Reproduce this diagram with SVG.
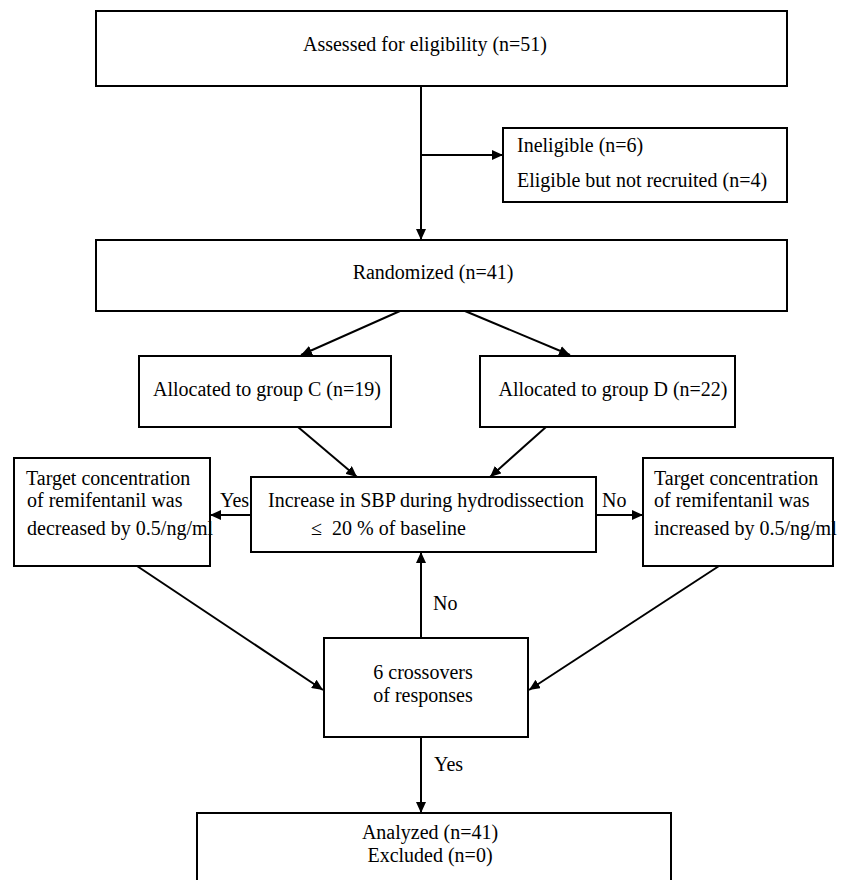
<svg xmlns="http://www.w3.org/2000/svg" width="843" height="880" viewBox="0 0 843 880">
<style>
.box{fill:#fff;stroke:#000;stroke-width:2}
.t{font-family:'Liberation Serif',Tinos,'Times New Roman','DejaVu Serif',serif;font-size:20px;fill:#000}
.c{text-anchor:middle}
.pre{white-space:pre}
.ln{stroke:#000;stroke-width:2;fill:none;marker-end:url(#ah)}
</style>
<defs>
<marker id="ah" markerUnits="userSpaceOnUse" markerWidth="12" markerHeight="10" refX="11" refY="5" orient="auto">
<path d="M0,0 L11,5 L0,10 Z" fill="#000"/>
</marker>
</defs>
<rect width="843" height="880" fill="#fff"/>
<g id="connectors">
<line class="ln" x1="421" y1="86" x2="421" y2="240"/>
<line class="ln" x1="421" y1="155" x2="503" y2="155"/>
<line class="ln" x1="400" y1="311" x2="301" y2="355"/>
<line class="ln" x1="465" y1="311" x2="570" y2="355"/>
<line class="ln" x1="298" y1="427" x2="357" y2="477"/>
<line class="ln" x1="546" y1="427" x2="490" y2="477"/>
<line class="ln" x1="251" y1="515" x2="210" y2="515"/>
<line class="ln" x1="596" y1="515" x2="643" y2="515"/>
<line class="ln" x1="137" y1="566" x2="323" y2="690"/>
<line class="ln" x1="719" y1="566" x2="529" y2="690"/>
<line class="ln" x1="421" y1="638" x2="421" y2="552"/>
<line class="ln" x1="421" y1="737" x2="421" y2="813"/>
<text class="t" x="220" y="507">Yes</text>
<text class="t" x="602" y="507">No</text>
<text class="t" x="433" y="610">No</text>
<text class="t" x="434" y="771">Yes</text>
</g>
<g id="assessed">
<rect class="box" x="96" y="11" width="691" height="75"/>
<text class="t c" x="425" y="51">Assessed for eligibility (n=51)</text>
</g>
<g id="excluded">
<rect class="box" x="503" y="128" width="284" height="74"/>
<text class="t" x="517" y="152">Ineligible (n=6)</text>
<text class="t" x="517" y="187">Eligible but not recruited (n=4)</text>
</g>
<g id="randomized">
<rect class="box" x="96" y="240" width="691" height="71"/>
<text class="t c" x="433" y="279">Randomized (n=41)</text>
</g>
<g id="groupC">
<rect class="box" x="139" y="356" width="252" height="71"/>
<text class="t c" x="267" y="396">Allocated to group C (n=19)</text>
</g>
<g id="groupD">
<rect class="box" x="480" y="356" width="255" height="71"/>
<text class="t c" x="613" y="396">Allocated to group D (n=22)</text>
</g>
<g id="decision">
<rect class="box" x="251" y="477" width="345" height="75"/>
<text class="t" x="268" y="507">Increase in SBP during hydrodissection</text>
<text class="t pre" x="311" y="535" xml:space="preserve">≤  20 % of baseline</text>
</g>
<g id="decrease">
<rect class="box" x="14" y="458" width="196" height="108"/>
<text class="t" x="26" y="485">Target concentration</text>
<text class="t" x="27" y="507">of remifentanil was</text>
<text class="t" x="27" y="535">decreased by 0.5/ng/ml</text>
</g>
<g id="increase">
<rect class="box" x="643" y="458" width="190" height="108"/>
<text class="t" x="654" y="485">Target concentration</text>
<text class="t" x="654" y="507">of remifentanil was</text>
<text class="t" x="654" y="535">increased by 0.5/ng/ml</text>
</g>
<g id="crossovers">
<rect class="box" x="324" y="638" width="204" height="99"/>
<text class="t c" x="423" y="679">6 crossovers</text>
<text class="t c" x="423" y="702">of responses</text>
</g>
<g id="analyzed">
<rect class="box" x="197" y="813" width="474" height="80"/>
<text class="t c" x="430" y="839">Analyzed (n=41)</text>
<text class="t c" x="430" y="862">Excluded (n=0)</text>
</g>
</svg>
